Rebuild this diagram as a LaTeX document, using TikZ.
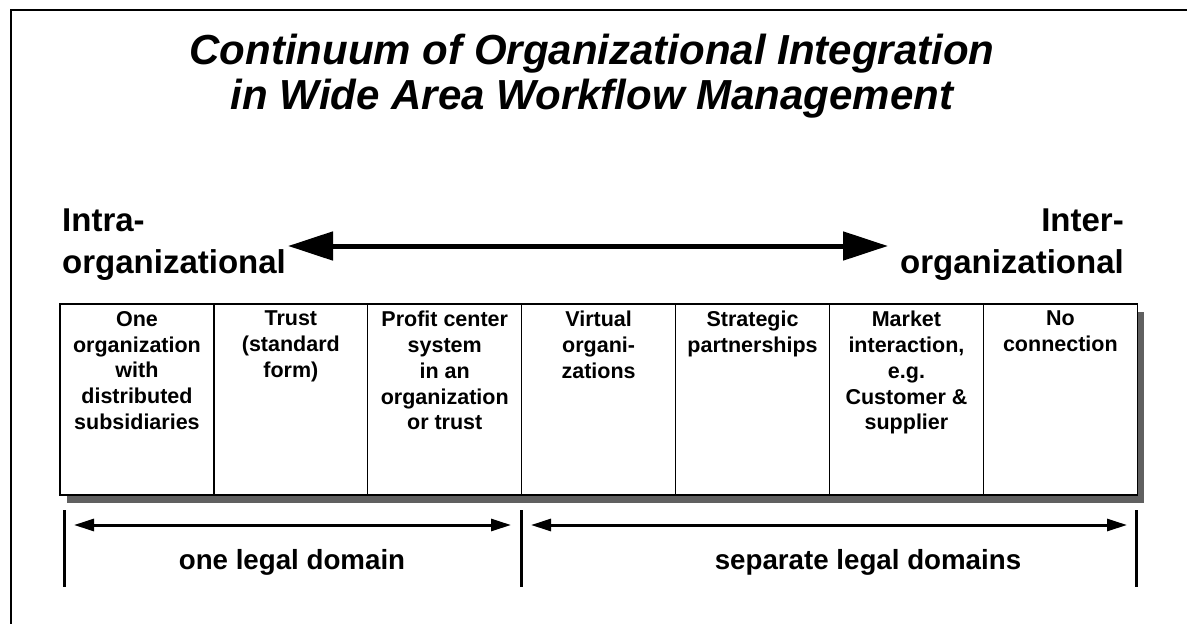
\documentclass[tikz,border=0pt]{standalone}
\usepackage{fontspec}
\setmainfont{Liberation Sans}
\setsansfont{Liberation Sans}
\usetikzlibrary{
    arrows.meta,
    positioning,
    calc,
    backgrounds
}
\definecolor{shadowgray}{HTML}{606060}
\tikzset{
    % --- Heading, two centred lines ---
    title/.style = {
        font=\fontsize{42}{45}\selectfont\bfseries\itshape,
        align=center, inner sep=0pt
    },
    % --- Labels at both ends of the continuum ---
    endlabel/.style = {
        font=\fontsize{33}{42}\selectfont\bfseries,
        inner sep=0pt
    },
    % --- One column of the table (empty box) ---
    cell/.style = {
        rectangle, draw, line width=1.2pt, fill=white,
        minimum width=153.9pt, minimum height=191pt,
        inner sep=0pt, outer sep=0pt
    },
    % --- Text at the top of a column ---
    celltext/.style = {
        font=\fontsize{21.5}{25.8}\selectfont\bfseries,
        align=center, inner sep=0pt
    },
    % --- Legal domain labels ---
    domainlabel/.style = {
        font=\fontsize{27.7}{30}\selectfont\bfseries,
        inner sep=0pt
    },
    % --- Thick double arrow of the continuum ---
    big arrow/.style = {
        {Triangle[length=45pt,width=28pt]}-{Triangle[length=45pt,width=28pt]},
        line width=5pt
    },
    % --- Span arrow between domain bars ---
    span arrow/.style = {
        {Triangle[length=20pt,width=12pt]}-{Triangle[length=20pt,width=12pt]},
        line width=3pt
    },
    % --- Vertical domain limits ---
    domain bar/.style = {
        line width=3pt
    }
}

\begin{document}
\begin{tikzpicture}[x=1pt, y=-1pt]

\useasboundingbox (0,0) rectangle (1187,624);
\clip (0,0) rectangle (1187,624);

% ---------------------------------------------------------
% Frame
% ---------------------------------------------------------
\draw[line width=2pt] (11,660) -- (11,10) -- (1220,10);

% ---------------------------------------------------------
% Title
% ---------------------------------------------------------
\node[title, anchor=north] (title) at (592,34) {%
    Continuum of Organizational Integration\\
    in Wide Area Workflow Management
};

% ---------------------------------------------------------
% Continuum ends
% ---------------------------------------------------------
\node[endlabel, anchor=north west, align=left] (intra) at (62,209) {Intra-\\organizational};
\node[endlabel, anchor=north east, align=right] (inter) at (1124,209) {Inter-\\organizational};

\coordinate (contL) at (288,246);
\coordinate (contR) at (888,246);
\draw[big arrow] (contL) -- (contR);

% ---------------------------------------------------------
% Table of forms of integration
% ---------------------------------------------------------
\node[cell] (c1) at (136.95,399.5) {};
\node[cell, right=0pt of c1] (c2) {};
\node[cell, right=0pt of c2] (c3) {};
\node[cell, right=0pt of c3] (c4) {};
\node[cell, right=0pt of c4] (c5) {};
\node[cell, right=0pt of c5] (c6) {};
\node[cell, right=0pt of c6] (c7) {};
\draw[line width=1.6pt] (c1.north west) rectangle (c7.south east);

% white page, then the drop shadow behind the table
\begin{scope}[on background layer]
    \fill[white] (0,0) rectangle (1187,624);
    \fill[shadowgray] ($(c1.north west)+(7,8)$) rectangle ($(c7.south east)+(7,8)$);
\end{scope}

\node[celltext, anchor=north] (t1) at ($(c1.north)+(0,7)$) {One\\organization\\with\\distributed\\subsidiaries};
\node[celltext, anchor=north] (t2) at ($(c2.north)+(0,7)$) {Trust\\(standard\\form)};
\node[celltext, anchor=north] (t3) at ($(c3.north)+(0,7)$) {Profit center\\system\\in an\\organization\\or trust};
\node[celltext, anchor=north] (t4) at ($(c4.north)+(0,7)$) {Virtual\\organi-\\zations};
\node[celltext, anchor=north] (t5) at ($(c5.north)+(0,7)$) {Strategic\\partnerships};
\node[celltext, anchor=north] (t6) at ($(c6.north)+(0,7)$) {Market\\interaction,\\e.g.\\Customer \&\\supplier};
\node[celltext, anchor=north] (t7) at ($(c7.north)+(0,7)$) {No\\connection};

% ---------------------------------------------------------
% Legal domains
% ---------------------------------------------------------
\foreach \x/\n in {64/L, 521/M, 1136/R}
    \draw[domain bar] (\x,510) coordinate (bar\n) -- (\x,587);

\draw[span arrow] ($(barL)+(10,15)$) -- ($(barM)+(-10,15)$);
\draw[span arrow] ($(barM)+(10,15)$) -- ($(barR)+(-9,15)$);

\node[domainlabel] (legal1) at (292,562) {one legal domain};
\node[domainlabel] (legal2) at (868,562) {separate legal domains};

\end{tikzpicture}
\end{document}
